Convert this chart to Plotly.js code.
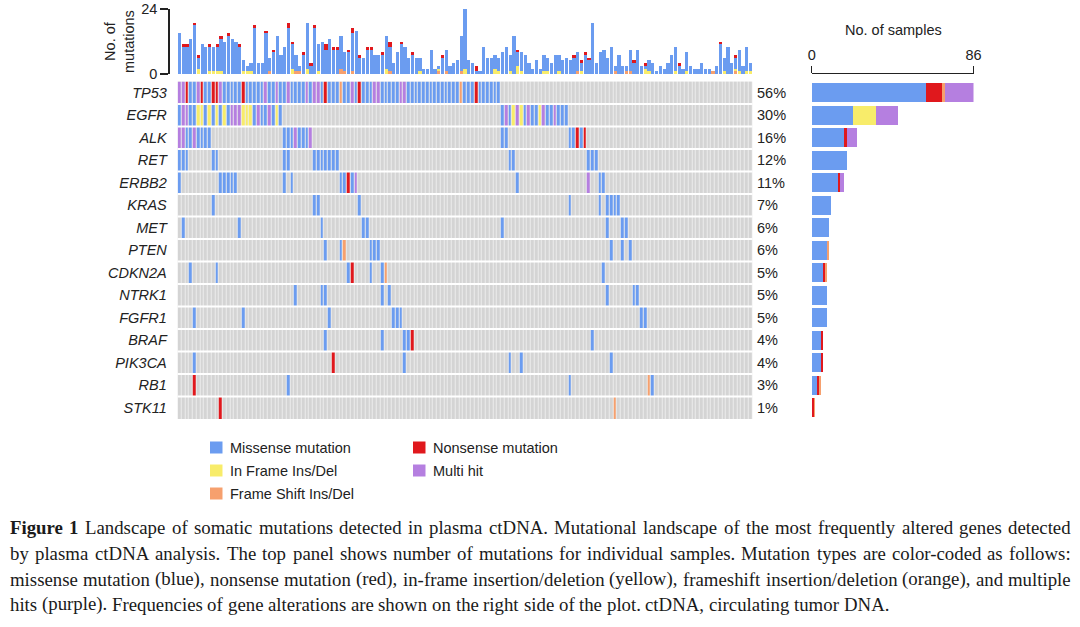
<!DOCTYPE html>
<html>
<head>
<meta charset="utf-8">
<script src="https://cdn.plot.ly/plotly-3.0.1.min.js"></script>
<style>
  html, body { margin: 0; padding: 0; background: #ffffff; }
  #chart { width: 1080px; height: 627px; }
</style>
</head>
<body>
<div id="chart"></div>
<script>
// ---------------- data ----------------
const sampleCount = 153;
const genes = ['TP53', 'EGFR', 'ALK', 'RET', 'ERBB2', 'KRAS', 'MET', 'PTEN', 'CDKN2A', 'NTRK1', 'FGFR1', 'BRAF', 'PIK3CA', 'RB1', 'STK11'];

// alteration runs per gene, "start[-end]Type" over sample columns
// M missense, I in-frame ins/del, F frameshift ins/del, N nonsense, H multi hit
const tp53Hits = ['0-1H', '2N', '3-4M', '5H', '6N', '7-8M', '9-10N', '11H', '12-16M', '17N', '18-22M', '23H', '24-25M', '26H', '27-28M', '29H', '30-33M', '34H', '35M', '36-37H', '38M', '39N', '40-42M', '43F', '44-45M', '46H', '47M', '48N', '49-51M', '52-53H', '54-58M', '59-60H', '61-74M', '75F', '76-78M', '79N', '80-85M'];
const egfrHits = ['0M', '1-2H', '3-4M', '5-6I', '7M', '8I', '9M', '10I', '11M', '12I', '13M', '14-16H', '17-19I', '20M', '21H', '22-23M', '24H', '25M', '26I', '27M', '86M', '87H', '88M', '89I', '90H', '91I', '92M', '93H', '94-95M', '96I', '97H', '98-99M', '100H', '101-103M'];
const alkHits = ['0-1H', '2-3M', '4H', '5-8M', '28-30M', '31H', '32-34M', '35H', '86-87M', '104-105M', '106N', '107M', '108N'];
const retHits = ['0-2M', '9-10M', '28-29M', '36-42M', '88-89M', '109-111M'];
const erbb2Hits = ['0M', '11-15M', '28M', '30M', '43-44M', '45N', '46M', '47H', '90M', '109H', '112-113M'];
const krasHits = ['9M', '36-37M', '48M', '104M', '112M', '114-117M'];
const metHits = ['1M', '16M', '38M', '49-50M', '86M', '114M', '118-119M'];
const ptenHits = ['39M', '43M', '44F', '51-53M', '115M', '118M', '120M'];
const cdkn2aHits = ['3M', '10M', '45M', '46N', '51M', '54M', '55F', '113M'];
const ntrk1Hits = ['31M', '38-39M', '54M', '56M', '114M', '121-122M'];
const fgfr1Hits = ['4M', '17M', '40M', '57-59M', '123-124M'];
const brafHits = ['39M', '54M', '60-61M', '62N', '110M'];
const pik3caHits = ['4M', '41N', '60M', '88M', '91M', '115M'];
const rb1Hits = ['4N', '29M', '104M', '125F', '126M'];
const stk11Hits = ['11N', '116F'];
const geneHits = [tp53Hits, egfrHits, alkHits, retHits, erbb2Hits, krasHits, metHits, ptenHits, cdkn2aHits, ntrk1Hits, fgfr1Hits, brafHits, pik3caHits, rb1Hits, stk11Hits];

// number of mutations per sample (top panel)
const mutationsPerSample = [
  15, 11, 11, 13, 19, 7, 11, 10, 11, 10, 11, 14, 12, 15, 13, 12, 11, 5, 3, 4, 18, 4, 4, 16, 6, 9,
  14, 7, 10, 19, 12, 7, 3, 8, 19, 4, 18, 11, 12, 11, 13, 10, 10, 14, 8, 9, 17, 16, 7, 6, 10, 10, 7, 7, 8, 14, 12, 4, 8, 12, 10, 6, 8, 6, 6, 2, 2, 9, 2,
  3, 7, 9, 3, 4, 5, 14, 24, 5, 4, 3, 1, 10, 6, 6, 7, 6, 8, 10, 7, 14, 9, 8, 7, 4, 2, 5, 2, 7, 6, 4, 7, 7, 5, 6, 5, 7, 8, 5, 8, 6, 19,
  4, 8, 9, 6, 10, 3, 7, 3, 3, 9, 5, 9, 3, 4, 5, 4, 1, 3, 2, 4, 7, 10, 4, 2, 8, 3, 2, 2, 4, 2, 2, 1, 3, 12, 6, 10, 4, 7, 9, 3, 10, 4
];
// [sample, count] for the non-missense classes in the top panel
const nonsensePerSample = [[1, 1], [2, 1], [4, 1], [5, 1], [8, 1], [10, 1], [11, 1], [13, 1], [16, 1], [20, 1], [23, 1], [25, 1], [29, 2], [30, 1], [33, 1], [35, 1], [36, 1], [39, 2], [41, 1], [42, 1], [45, 1], [46, 2], [48, 1], [50, 1], [51, 1], [54, 1], [56, 2], [59, 1], [62, 1], [70, 1], [79, 2], [90, 1], [105, 1], [107, 1], [108, 1], [109, 1], [121, 1], [124, 1], [133, 1], [144, 1], [148, 1]];
const inFramePerSample = [[5, 2], [8, 1], [9, 1], [10, 1], [11, 1], [17, 1], [18, 1], [19, 1], [30, 2], [34, 2], [37, 1], [55, 2], [64, 1], [69, 1], [76, 2], [84, 2], [85, 1], [88, 1], [90, 3], [91, 1], [97, 1], [98, 1], [101, 1], [107, 1], [124, 2], [125, 1], [132, 1], [135, 1], [145, 1], [148, 1], [149, 1], [151, 1], [152, 1]];
const frameShiftPerSample = [[24, 1], [31, 1], [32, 1], [43, 2], [44, 1], [46, 1], [56, 1], [69, 1], [71, 1], [75, 1], [106, 1], [116, 1], [119, 1], [120, 1], [142, 1], [148, 1]];

const typeCodes = ['M', 'I', 'F', 'N', 'H'];
const typeNames = ['Missense mutation', 'In Frame Ins/Del', 'Frame Shift Ins/Del', 'Nonsense mutation', 'Multi hit'];
const typeColors = ['#6b9cf0', '#f8ec6a', '#f6a06e', '#e0181d', '#b57fe0'];
const noHitColor = '#d4d4d4';

const captionLead = 'Figure 1';
const captionLines = [
  'Landscape of somatic mutations detected in plasma ctDNA. Mutational landscape of the most frequently altered genes detected',
  'by plasma ctDNA analysis. The top panel shows number of mutations for individual samples. Mutation types are color-coded as follows:',
  'missense mutation (blue), nonsense mutation (red), in-frame insertion/deletion (yellow), frameshift insertion/deletion (orange), and multiple',
  'hits (purple). Frequencies of gene alterations are shown on the right side of the plot. ctDNA, circulating tumor DNA.'
];

// ---------------- helpers ----------------
const W = 1080, H = 627;
const px = v => v / W;
const py = v => 1 - v / H;
const sans = 'Liberation Sans, Arial, sans-serif';
const ink = '#222222';

function expandTrack(tokens) {
  const row = new Array(sampleCount).fill(0);
  tokens.forEach(tok => {
    const m = tok.match(/^(\d+)(?:-(\d+))?([MIFNH])$/);
    const a = +m[1], b = m[2] ? +m[2] : a;
    const code = typeCodes.indexOf(m[3]) + 1;
    for (let i = a; i <= b; i++) row[i] = code;
  });
  return row;
}
function dense(pairs) {
  const arr = new Array(sampleCount).fill(0);
  pairs.forEach(([i, n]) => { arr[i] = n; });
  return arr;
}

const samples = Array.from({ length: sampleCount }, (_, i) => i);
const matrix = geneHits.map(expandTrack);

// ---------------- geometry ----------------
const gridL = 177.7, gridR = 752.4, gridT = 81.5, gridB = 419;
const gridX = [px(gridL), px(gridR)];
const gridY = [py(gridB), py(gridT)];

const traces = [];

// top panel: mutations per sample
const nonsenseTop = dense(nonsensePerSample);
const inFrameTop = dense(inFramePerSample);
const frameShiftTop = dense(frameShiftPerSample);
const missenseTop = mutationsPerSample.map((t, i) => t - nonsenseTop[i] - inFrameTop[i] - frameShiftTop[i]);
[[frameShiftTop, 2], [inFrameTop, 1], [missenseTop, 0], [nonsenseTop, 3]].forEach(([vals, t]) => {
  traces.push({
    type: 'bar', x: samples, y: vals, xaxis: 'x', yaxis: 'y',
    marker: { color: typeColors[t], line: { width: 0 } },
    name: typeNames[t], showlegend: false, hoverinfo: 'skip'
  });
});

// oncoplot grid
const step = 1 / 5;
const colorscale = [[0, noHitColor], [step * 0.5, noHitColor]];
typeColors.forEach((c, k) => {
  colorscale.push([step * (k + 0.5), c]);
  colorscale.push([Math.min(1, step * (k + 1.5)), c]);
});
traces.push({
  type: 'heatmap', z: matrix, x: samples, y: genes, xaxis: 'x2', yaxis: 'y2',
  zmin: 0, zmax: 5, colorscale: colorscale, showscale: false,
  xgap: 1, ygap: 0, hoverinfo: 'skip'
});

// right panel: number of samples per gene, stacked by class
const geneTotals = matrix.map(row => row.filter(v => v > 0).length);
[0, 3, 2, 1, 4].forEach(t => {
  const counts = matrix.map(row => row.filter(v => v === t + 1).length);
  traces.push({
    type: 'bar', orientation: 'h', x: counts, y: genes, xaxis: 'x3', yaxis: 'y3',
    marker: { color: typeColors[t], line: { width: 0 } },
    name: typeNames[t], showlegend: false, hoverinfo: 'skip'
  });
});
const maxSamples = Math.max(...geneTotals);

// ---------------- shapes & annotations ----------------
const shapes = [{
  type: 'rect', xref: 'paper', yref: 'paper', layer: 'below',
  x0: gridX[0], x1: gridX[1], y0: gridY[0], y1: gridY[1],
  fillcolor: '#ececec', line: { width: 0 }
}];
for (let i = 1; i < genes.length; i++) {
  shapes.push({
    type: 'line', xref: 'paper', yref: 'y2', layer: 'above',
    x0: gridX[0], x1: gridX[1], y0: i - 0.5, y1: i - 0.5,
    line: { color: '#ffffff', width: 2.2 }
  });
}

const annotations = [];
// frequency labels
genes.forEach((g, i) => {
  annotations.push({
    xref: 'paper', yref: 'y2', x: px(756), y: g, xanchor: 'left', yanchor: 'middle',
    text: Math.round(geneTotals[i] / sampleCount * 100) + '%', showarrow: false,
    font: { family: sans, size: 14.5, color: ink }, borderpad: 0
  });
});
// axis titles
annotations.push({
  xref: 'paper', yref: 'paper', x: px(119), y: py(42), xanchor: 'center', yanchor: 'middle',
  text: 'No. of<br>mutations', textangle: -90, showarrow: false, align: 'center',
  font: { family: sans, size: 14.5, color: ink }
});
annotations.push({
  xref: 'paper', yref: 'paper', x: px(893), y: py(30), xanchor: 'center', yanchor: 'middle',
  text: 'No. of samples', showarrow: false,
  font: { family: sans, size: 14.5, color: ink }
});

// legend
const legendSlots = [[210, 447.5], [210, 470.5], [210, 493.5], [413, 447.5], [413, 470.5]];
const legendOrder = [0, 1, 2, 3, 4];
legendOrder.forEach((t, k) => {
  const [lx, ly] = legendSlots[k];
  shapes.push({
    type: 'rect', xref: 'paper', yref: 'paper',
    x0: px(lx), x1: px(lx + 12.5), y0: py(ly + 6), y1: py(ly - 6),
    fillcolor: typeColors[t], line: { width: 0 }
  });
  annotations.push({
    xref: 'paper', yref: 'paper', x: px(lx + 19), y: py(ly), xanchor: 'left', yanchor: 'middle',
    text: typeNames[t], showarrow: false, borderpad: 0,
    font: { family: sans, size: 14.5, color: ink }
  });
});

// caption, set as justified lines
const serif = 'Liberation Serif';
const measureCtx = document.createElement('canvas').getContext('2d');
function textWidth(t, size, bold) {
  measureCtx.font = (bold ? 'bold ' : '') + size + 'px "' + serif + '"';
  return measureCtx.measureText(t).width;
}
const capLeft = 10, capRight = 1071;
const capSize = 16 * 880 / textWidth(captionLines[3], 16, false);
const capBaselines = [527, 553, 579, 604];
captionLines.forEach((line, li) => {
  let words = line.split(' ').map(w => ({ w, bold: false }));
  if (li === 0) words = captionLead.split(' ').map(w => ({ w, bold: true })).concat(words);
  const widths = words.map(o => textWidth(o.w, capSize, o.bold));
  const sum = widths.reduce((a, b) => a + b, 0);
  const justify = li < captionLines.length - 1;
  const gap = justify ? (capRight - capLeft - sum) / (words.length - 1) : textWidth(' ', capSize, false);
  let cursor = capLeft;
  words.forEach((o, k) => {
    annotations.push({
      xref: 'paper', yref: 'paper', x: px(cursor), y: py(capBaselines[li]),
      xanchor: 'left', yanchor: 'middle', showarrow: false, borderpad: 0, borderwidth: 0,
      text: o.bold ? '<b>' + o.w + '</b>' : o.w,
      font: { family: serif, size: capSize, color: '#1a1a1a' }
    });
    cursor += widths[k] + gap;
  });
});

// ---------------- layout ----------------
const layout = {
  width: W, height: H,
  margin: { l: 0, r: 0, t: 0, b: 0 },
  paper_bgcolor: '#ffffff', plot_bgcolor: 'rgba(0,0,0,0)',
  font: { family: sans, size: 14.5, color: ink },
  barmode: 'stack', bargap: 0.14,
  hovermode: false, showlegend: false,
  xaxis: {
    domain: gridX, range: [-0.5, sampleCount - 0.5], anchor: 'y',
    showticklabels: false, showgrid: false, zeroline: false, showline: false, ticks: ''
  },
  yaxis: {
    domain: [py(74), py(9)], range: [0, 24], anchor: 'free', position: px(168.3),
    showline: true, linecolor: ink, linewidth: 1.5,
    ticks: 'outside', ticklen: 8, tickwidth: 1.5, tickcolor: ink,
    tickmode: 'array', tickvals: [0, 24], showgrid: false, zeroline: false,
    tickfont: { family: sans, size: 14.5, color: ink }
  },
  xaxis2: {
    domain: gridX, range: [-0.5, sampleCount - 0.5], anchor: 'y2',
    showticklabels: false, showgrid: false, zeroline: false, showline: false, ticks: ''
  },
  yaxis2: {
    domain: gridY, type: 'category', categoryorder: 'array', categoryarray: genes,
    autorange: 'reversed', anchor: 'x2',
    tickmode: 'array', tickvals: genes, ticktext: genes.map(g => '<i>' + g + '</i>'),
    ticks: 'outside', ticklen: 7, tickcolor: 'rgba(0,0,0,0)',
    showgrid: false, zeroline: false, showline: false,
    tickfont: { family: sans, size: 14.5, color: ink }
  },
  xaxis3: {
    domain: [px(811.7), px(973.5)], range: [0, maxSamples], side: 'top',
    anchor: 'free', position: py(72.7),
    showline: true, linecolor: ink, linewidth: 1.5,
    ticks: 'outside', ticklen: 7, tickwidth: 1.5, tickcolor: ink,
    tickmode: 'array', tickvals: [0, maxSamples], showgrid: false, zeroline: false,
    tickfont: { family: sans, size: 14.5, color: ink }
  },
  yaxis3: {
    domain: gridY, type: 'category', categoryorder: 'array', categoryarray: genes,
    autorange: 'reversed', anchor: 'x3',
    showticklabels: false, showgrid: false, zeroline: false, showline: false, ticks: ''
  },
  shapes: shapes,
  annotations: annotations
};

Plotly.newPlot('chart', traces, layout, { staticPlot: true, displayModeBar: false });
</script>
</body>
</html>
